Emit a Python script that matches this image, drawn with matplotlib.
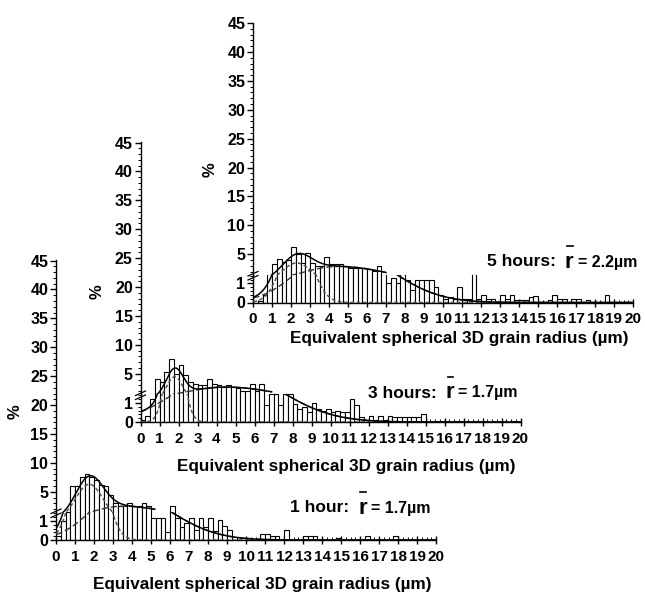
import numpy as np
import matplotlib
matplotlib.use("Agg")
import matplotlib.pyplot as plt
from matplotlib.lines import Line2D
from matplotlib.ticker import MultipleLocator, FixedLocator

plt.rcParams['font.family'] = ['Liberation Sans', 'DejaVu Sans']
plt.rcParams['font.weight'] = 'bold'

# ---------------- data ----------------
bin_width = 0.25
bin_starts = np.arange(80) * bin_width          # 0.00 ... 19.75 um

hist_1h = [0.2, 1.0, 1.48, 6.0,   6.0, 7.6, 8.0, 7.6,   7.0, 6.2, 6.0, 4.5,
           3.0, 2.6, 2.6, 3.1,    2.6, 2.6, 3.0, 2.6,   1.15, 1.15, 1.15, 0.4,
           2.6, 1.15, 0.7, 0.9,   1.15, 0.55, 1.15, 0.7, 1.15, 0.45, 1.05, 0.75,
           0.5, 0, 0, 0.1,        0, 0, 0, 0.3,         0.3, 0.2, 0.2, 0,
           0.55, 0, 0, 0,         0.2, 0.2, 0.2, 0,     0, 0, 0, 0.1,
           0, 0, 0, 0,            0, 0.2, 0, 0,         0, 0, 0, 0.2,
           0, 0, 0, 0,            0, 0, 0, 0]

hist_3h = [0.1, 0.3, 1.2, 4.1,    3.6, 5.3, 7.6, 5.0,   6.5, 4.8, 3.6, 3.3,
           3.0, 3.0, 4.1, 3.3,    3.0, 2.7, 3.0, 2.7,   2.55, 2.0, 2.1, 3.3,
           2.1, 3.2, 0.88, 1.48,  1.48, 0.88, 1.48, 1.48, 0.96, 0.7, 0.8, 0.5,
           1.0, 0.7, 0.6, 0.7,    0.5, 0.6, 0.5, 0.5,   1.2, 0.9, 0.25, 0.1,
           0.3, 0.1, 0.3, 0.1,    0.3, 0.25, 0.25, 0.25, 0.25, 0.25, 0.25, 0.4,
           0, 0, 0, 0,            0, 0, 0, 0,           0, 0, 0, 0,
           0, 0, 0, 0,            0, 0, 0, 0]

hist_5h = [0.0, 0.1, 0.4, 1.48,   3.3, 4.2, 3.6, 4.0,   6.3, 5.0, 3.5, 5.2,
           3.5, 3.0, 3.0, 4.6,    3.4, 3.4, 3.4, 3.0,   2.7, 2.7, 2.7, 2.7,
           2.4, 2.1, 3.0, 1.48,   1.05, 1.3, 1.0, 1.48, 1.2, 0.65, 1.2, 1.2,
           1.2, 1.2, 0.8, 0.4,    0.2, 0.3, 0.2, 0.8,   0.2, 0.2, 1.48, 0.2,
           0.4, 0.2, 0.2, 0.0,    0.4, 0.2, 0.4, 0.15,  0.15, 0.15, 0.3, 0.35,
           0, 0, 0.13, 0.4,       0.2, 0.2, 0, 0.2,     0.2, 0, 0.13, 0,
           0, 0, 0.4, 0,          0, 0, 0, 0]

# fitted components: G1 gaussian (A, centre, sigma); G2 asymmetric gaussian (A, centre, sigmaL, sigmaR)
fit_g1 = {'1h': (6.3, 1.75, 0.72), '3h': (4.5, 1.8, 0.44), '5h': (3.5, 2.3, 0.765)}
fit_g2 = {'1h': (2.5, 3.5, 1.67, 2.49), '3h': (2.7, 4.5, 2.5, 2.82), '5h': (2.9, 4.5, 2.0, 2.63)}

panel_labels = {'1h': '1 hour:', '3h': '3 hours:', '5h': '5 hours:'}
mean_radius = {'1h': '= 1.7µm', '3h': '= 1.7µm', '5h': '= 2.2µm'}
xticks = list(range(0, 21))
xlabel = 'Equivalent spherical 3D grain radius (µm)'

# ---------------- layout ----------------
W, H = 645, 594
fig = plt.figure(figsize=(W / 100, H / 100), dpi=100)
LOWER_H, UPPER_H, PW = 28, 252, 380

layout = {
    '1h': dict(x0=56, y0=540, up_xmax=5.2, txt=(290, 508), xl=(262, 585), pct=(15, 412)),
    '3h': dict(x0=140.5, y0=422, up_xmax=6.9, txt=(368, 393), xl=(346, 467), pct=(97, 292)),
    '5h': dict(x0=253, y0=302.5, up_xmax=7.0, txt=(487, 262), xl=(459, 338), pct=(210, 170)),
}
hists = {'1h': hist_1h, '3h': hist_3h, '5h': hist_5h}


def g1(x, p):
    A, c, s = p
    return A * np.exp(-(x - c) ** 2 / (2 * s ** 2))


def g2(x, p):
    A, c, sl, sr = p
    s = np.where(x < c, sl, sr)
    return A * np.exp(-(x - c) ** 2 / (2 * s ** 2))


renderer = fig.canvas.get_renderer()

for key in ['1h', '3h', '5h']:
    L = layout[key]
    x0, y0 = L['x0'], L['y0']
    axl = fig.add_axes([x0 / W, (H - y0) / H, PW / W, LOWER_H / H])
    axu = fig.add_axes([x0 / W, (H - y0 + LOWER_H) / H, PW / W, UPPER_H / H])
    for ax in (axl, axu):
        ax.patch.set_visible(False)
        ax.spines['top'].set_visible(False)
        ax.spines['right'].set_visible(False)
        ax.spines['left'].set_linewidth(1.0)
        ax.spines['bottom'].set_linewidth(1.0)
        ax.set_xlim(0, 20)
        ax.bar(bin_starts, hists[key], width=bin_width, align='edge',
               color='white', edgecolor='black', linewidth=0.8, zorder=2)
    axu.spines['bottom'].set_visible(False)
    axu.set_ylim(1.5, 45.1)
    axl.set_ylim(0, 1.47)

    # curves
    xs_u = np.linspace(0.02, L['up_xmax'], 500)
    xs_l = np.linspace(0.02, 20, 1500)
    for ax, xs in ((axu, xs_u), (axl, xs_l)):
        a = g1(xs, fit_g1[key])
        b = g2(xs, fit_g2[key])
        ax.plot(xs, a, color='#555555', lw=1.1, ls=(0, (2.5, 1.6)), zorder=3)
        ax.plot(xs, b, color='#333333', lw=1.0, ls=(0, (4.5, 2.2)), zorder=3)
        ax.plot(xs, a + b, color='black', lw=1.1, zorder=4)

    # ticks
    axu.xaxis.set_visible(False)
    axu.yaxis.set_major_locator(FixedLocator([5, 10, 15, 20, 25, 30, 35, 40, 45]))
    axu.yaxis.set_minor_locator(MultipleLocator(1))
    axl.yaxis.set_major_locator(FixedLocator([0, 1]))
    axl.yaxis.set_minor_locator(MultipleLocator(0.2))
    axl.xaxis.set_major_locator(FixedLocator(xticks))
    axl.set_xticklabels([str(t) for t in xticks])
    axl.xaxis.set_minor_locator(MultipleLocator(0.25))
    for ax in (axu, axl):
        ax.tick_params(axis='y', which='major', direction='out', length=4, width=1,
                       labelsize=11.5, pad=1.5)
        ax.tick_params(axis='y', which='minor', direction='out', length=2, width=0.7)
    axl.tick_params(axis='x', which='major', direction='inout', length=6, width=1,
                    labelsize=11, pad=4)
    axl.tick_params(axis='x', which='minor', direction='in', length=2.5, width=0.7)

    # axis break marks
    yd = H - (y0 - LOWER_H)
    for off in (1.5, -2.5):
        fig.add_artist(Line2D([(x0 - 5) / W, (x0 + 5) / W],
                              [(yd - 3 + off) / H, (yd + 1.5 + off) / H],
                              color='black', lw=0.9))

    # labels
    fig.text(L['xl'][0] / W, 1 - L['xl'][1] / H, xlabel, ha='center', va='center',
             fontsize=12.3, fontweight='bold')
    fig.text(L['pct'][0] / W, 1 - L['pct'][1] / H, '%', ha='center', va='center',
             rotation=90, fontsize=12, fontweight='bold')

    tx, ty = L['txt']
    t1 = fig.text(tx / W, 1 - ty / H, panel_labels[key], ha='left', va='center',
                  fontsize=12.5, fontweight='bold')
    bb1 = t1.get_window_extent(renderer=renderer)
    t2 = fig.text((bb1.x1 + 9) / W, 1 - ty / H, 'r', ha='left', va='center',
                  fontsize=16, fontweight='bold')
    bb2 = t2.get_window_extent(renderer=renderer)
    fig.add_artist(Line2D([(bb2.x0 + 2) / W, (bb2.x1 - 1) / W],
                          [(H - ty + 16) / H, (H - ty + 16) / H], color='black', lw=1.2))
    fig.text((bb2.x1 + 4) / W, 1 - ty / H, mean_radius[key], ha='left', va='center',
             fontsize=11.5, fontweight='bold')

fig.savefig('out.png', dpi=100)
